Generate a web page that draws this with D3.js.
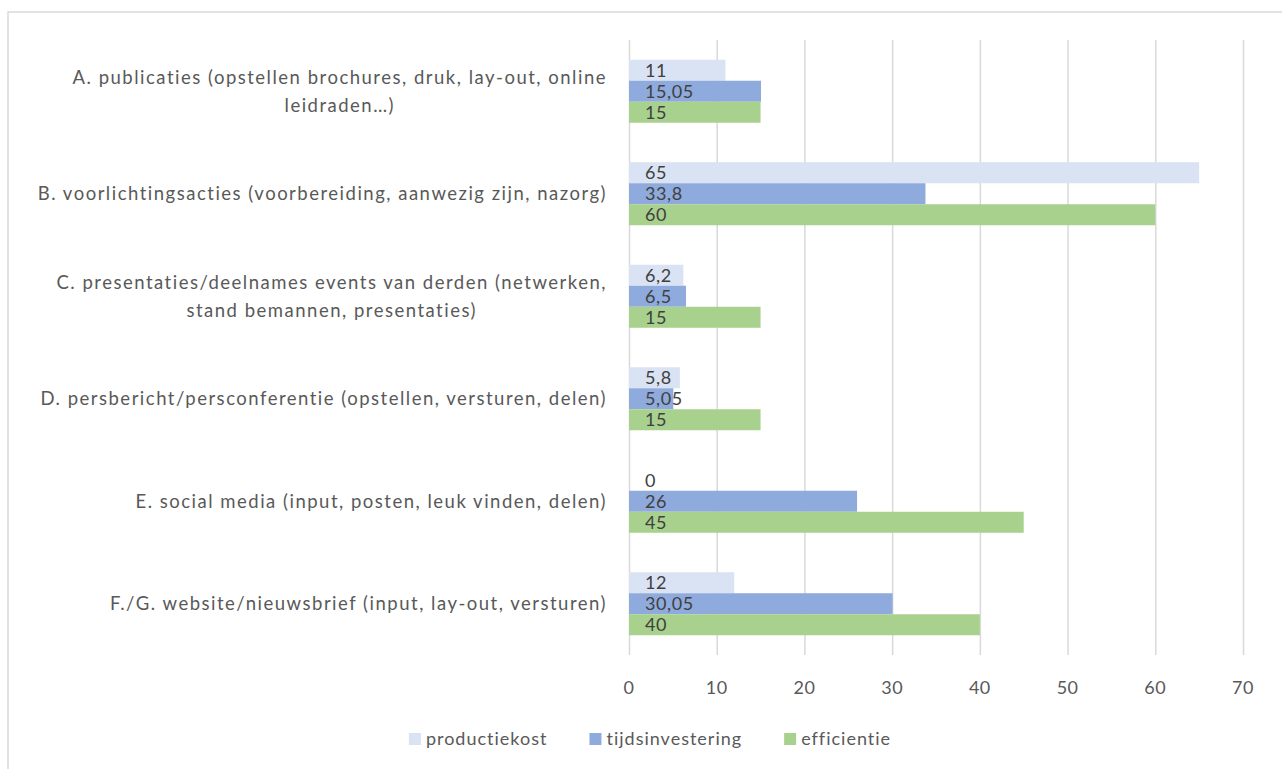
<!DOCTYPE html>
<html>
<head>
<meta charset="utf-8">
<script src="https://cdn.jsdelivr.net/npm/d3@7"></script>
<style>
  body { margin: 0; background: #fff; }
  svg { display: block; font-family: Lato, "Open Sans", sans-serif; }
</style>
</head>
<body>
<svg class="chart" width="1282" height="769"></svg>
<script>
// categorieen (regels per label, zoals in de grafiek afgebroken)
const categories = [
  ['A. publicaties (opstellen brochures, druk, lay-out, online', 'leidraden…)'],
  ['B. voorlichtingsacties (voorbereiding, aanwezig zijn, nazorg)'],
  ['C. presentaties/deelnames events van derden (netwerken,', 'stand bemannen, presentaties)'],
  ['D. persbericht/persconferentie (opstellen, versturen, delen)'],
  ['E. social media (input, posten, leuk vinden, delen)'],
  ['F./G. website/nieuwsbrief (input, lay-out, versturen)']
];
const seriesNames = ['productiekost', 'tijdsinvestering', 'efficientie'];
const productiekost = [11, 65, 6.2, 5.8, 0, 12];
const tijdsinvestering = [15.05, 33.8, 6.5, 5.05, 26, 30.05];
const efficientie = [15, 60, 15, 15, 45, 40];
const xTicks = [0, 10, 20, 30, 40, 50, 60, 70];

const colors = ['#dae3f3', '#8faadc', '#a9d18e'];
const seriesValues = [productiekost, tijdsinvestering, efficientie];

const svg = d3.select('.chart');
const width = +svg.attr('width');

const plotLeft = 629, plotRight = 1243, plotTop = 40, plotBottom = 655;

const nl = d3.formatLocale({ decimal: ',', thousands: '.', grouping: [3], currency: ['€', ''] });
const fmt = nl.format('~g');

// buitenrand (loopt rechts en onder van het beeld af)
svg.append('rect')
  .attr('x', 8).attr('y', 12)
  .attr('width', width + 10).attr('height', 790)
  .attr('fill', 'none')
  .attr('stroke', '#d9d9d9')
  .attr('stroke-width', 1.5);

const keys = categories.map((c, i) => i);

const xScale = d3.scaleLinear()
  .domain([0, 70])
  .range([plotLeft, plotRight]);

const yScale = d3.scaleBand()
  .domain(keys)
  .range([plotTop, plotBottom])
  .paddingInner(0.385)
  .paddingOuter(0.1925);

const ySub = d3.scaleBand()
  .domain(seriesNames)
  .range([0, yScale.bandwidth()]);

// rasterlijnen via de as, labels apart
const xAxisG = svg.append('g')
  .attr('transform', `translate(0, ${plotBottom})`)
  .call(d3.axisBottom(xScale)
    .tickValues(xTicks)
    .tickSize(-(plotBottom - plotTop))
    .tickFormat(''));

xAxisG.select('.domain').remove();
xAxisG.selectAll('.tick line')
  .attr('stroke', '#d9d9d9')
  .attr('stroke-width', 1.5);

svg.append('g')
  .selectAll('text')
  .data(xTicks)
  .enter()
  .append('text')
    .attr('x', d => xScale(d))
    .attr('y', plotBottom + 33)
    .attr('dy', '0.36em')
    .attr('text-anchor', 'middle')
    .attr('fill', '#595959')
    .style('font-size', '18px')
    .style('letter-spacing', '0.5px')
    .text(d => d);

// staven
const rows = [];
keys.forEach(ci => {
  seriesNames.forEach((s, si) => rows.push({ ci, s, si, v: seriesValues[si][ci] }));
});

svg.append('g')
  .selectAll('rect')
  .data(rows)
  .enter()
  .append('rect')
    .attr('x', xScale(0))
    .attr('y', d => yScale(d.ci) + ySub(d.s))
    .attr('width', d => xScale(d.v) - xScale(0))
    .attr('height', ySub.bandwidth())
    .attr('fill', d => colors[d.si]);

svg.append('g')
  .selectAll('text')
  .data(rows)
  .enter()
  .append('text')
    .attr('x', xScale(0) + 16)
    .attr('y', d => yScale(d.ci) + ySub(d.s) + ySub.bandwidth() / 2)
    .attr('dy', '0.36em')
    .attr('fill', '#404040')
    .style('font-size', '18px')
    .style('letter-spacing', '0.6px')
    .text(d => fmt(d.v));

// categorielabels
const labelG = svg.append('g')
  .attr('fill', '#595959')
  .style('font-size', '18.5px')
  .style('letter-spacing', '1.5px');

categories.forEach((lines, i) => {
  const cy = yScale(i) + yScale.bandwidth() / 2;
  if (lines.length === 1) {
    labelG.append('text')
      .attr('x', 607)
      .attr('y', cy)
      .attr('dy', '0.36em')
      .attr('text-anchor', 'end')
      .text(lines[0]);
  } else {
    const first = labelG.append('text')
      .attr('x', 607)
      .attr('y', cy - 14)
      .attr('dy', '0.36em')
      .attr('text-anchor', 'end')
      .text(lines[0]);
    const w1 = first.node().getComputedTextLength();
    labelG.append('text')
      .attr('x', 607 - w1 / 2)
      .attr('y', cy + 14)
      .attr('dy', '0.36em')
      .attr('text-anchor', 'middle')
      .text(lines[1]);
  }
});

// legenda
const legendY = 739;
const legend = svg.append('g');
const legendText = legend.selectAll('text')
  .data(seriesNames)
  .enter()
  .append('text')
    .attr('y', legendY)
    .attr('dy', '0.36em')
    .attr('fill', '#595959')
    .style('font-size', '18px')
    .style('letter-spacing', '1px')
    .text(d => d);

const widths = [];
legendText.each(function () { widths.push(this.getComputedTextLength() + 17); });
const gap = 42;
const total = d3.sum(widths) + gap * (widths.length - 1);
const starts = [];
let lx = 650 - total / 2;
widths.forEach(w => { starts.push(lx); lx += w + gap; });

legendText.attr('x', (d, i) => starts[i] + 17);
legend.selectAll('rect')
  .data(seriesNames)
  .enter()
  .append('rect')
    .attr('x', (d, i) => starts[i])
    .attr('y', legendY - 6)
    .attr('width', 12)
    .attr('height', 12)
    .attr('fill', (d, i) => colors[i]);
</script>
</body>
</html>
